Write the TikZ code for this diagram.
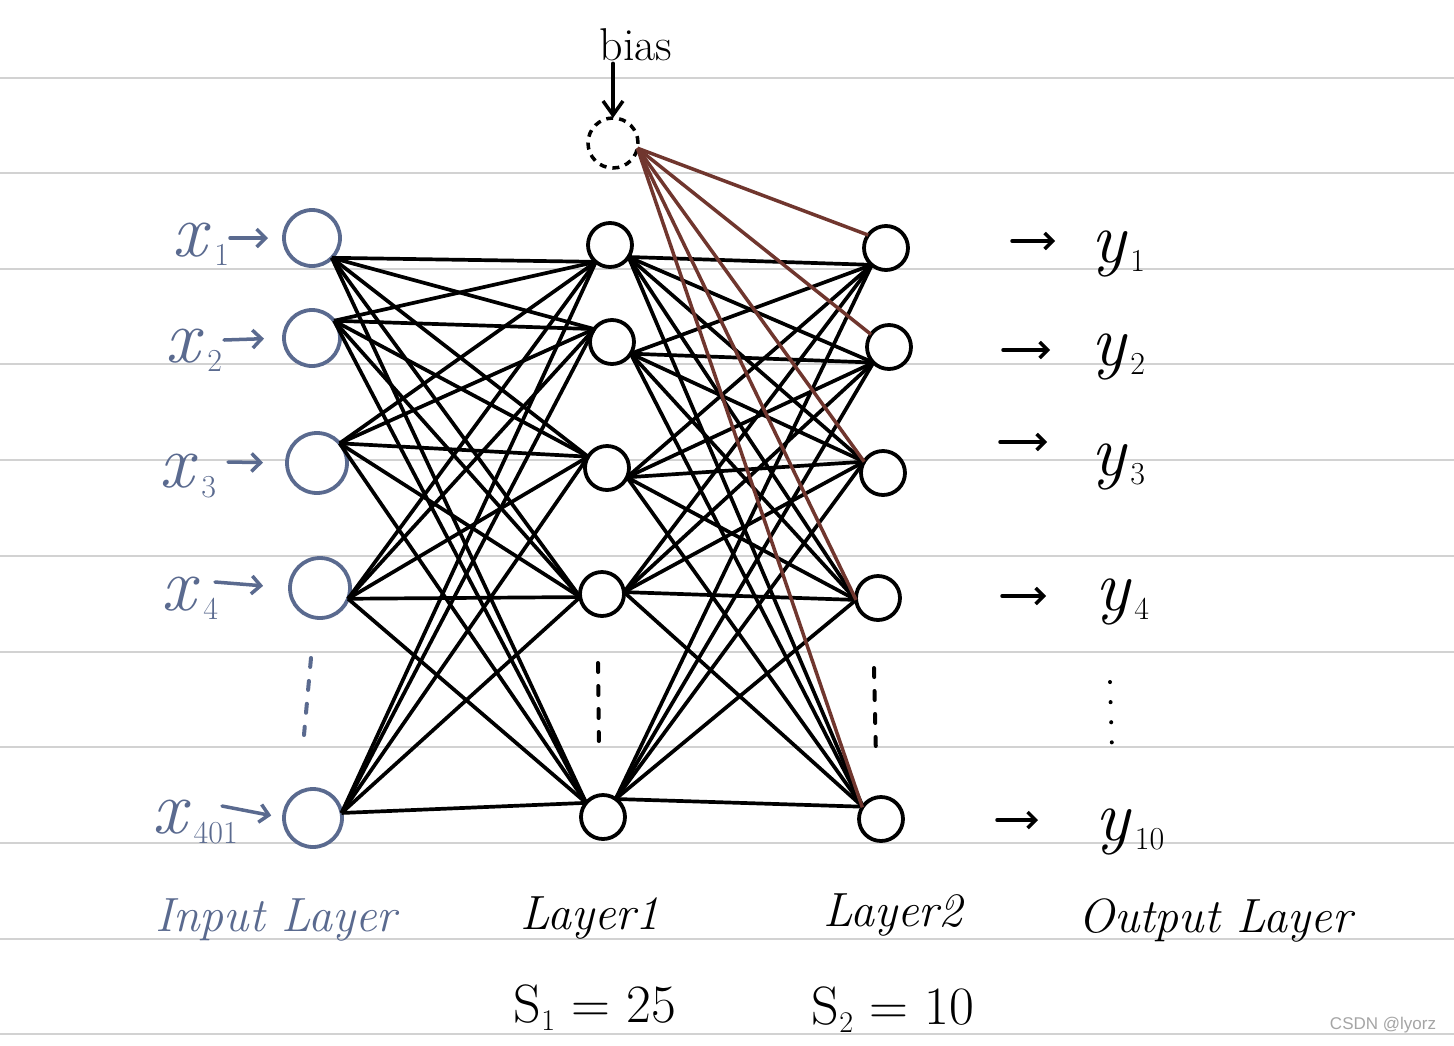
\documentclass[tikz,border=0pt]{standalone}
\usepackage{fontspec}
\usetikzlibrary{arrows.meta}
\newfontfamily\wmfont{Liberation Sans}
\definecolor{ink}{RGB}{90,106,143}
\definecolor{brownline}{RGB}{112,54,46}
\definecolor{ruleline}{RGB}{210,210,210}
\definecolor{wmgray}{RGB}{165,165,165}
\newcommand{\mylbl}[2]{\textit{#1}\kern0.04em\raisebox{-0.12em}{\fontsize{32}{34}\selectfont #2}}
\begin{document}
\begin{tikzpicture}[x=1pt,y=-1pt,
  inp/.style={circle, draw=ink, line width=3.8pt, inner sep=0pt, outer sep=0pt, fill=white},
  hid/.style={circle, draw=black, line width=3.8pt, minimum size=44pt, inner sep=0pt, outer sep=0pt, fill=white},
  biasnode/.style={circle, draw=black, line width=3.5pt, dash pattern=on 7pt off 6pt, minimum size=50pt, inner sep=0pt, outer sep=0pt},
  conn/.style={line width=3.7pt, black},
  biasln/.style={line width=3.5pt, brownline},
  ruled/.style={line width=2pt, ruleline},
  inarrow/.style={line width=3.5pt, ink, line cap=round, -{Straight Barb[length=9pt,width=18pt,line width=3.5pt]}},
  outarrow/.style={line width=3.5pt, black, line cap=round, -{Straight Barb[length=8pt,width=16pt,line width=3.5pt]}},
  xlab/.style={text=ink, font=\fontsize{76}{78}\selectfont, inner sep=0pt},
  ylab/.style={text=black, font=\fontsize{72}{74}\selectfont, inner sep=0pt},
  layerlab/.style={font=\fontsize{48}{52}\selectfont\itshape, inner sep=0pt},
  sizelab/.style={font=\fontsize{54}{56}\selectfont, inner sep=0pt},
  vdots/.style={line width=4pt, line cap=round, dash pattern=on 9pt off 14pt}
]
\useasboundingbox (0,0) rectangle (1454,1045);
\fill[white] (0,0) rectangle (1454,1045);
% ruled paper
\foreach \yy in {78,173,269,364,460,556,652,747,843,939,1034}
  \draw[ruled] (0,\yy) -- (1454,\yy);

% input layer
\node[inp, minimum size=56pt] (in1) at (312,238) {};
\node[inp, minimum size=56pt] (in2) at (312,338) {};
\node[inp, minimum size=60pt] (in3) at (317,463) {};
\node[inp, minimum size=60pt] (in4) at (320,588) {};
\node[inp, minimum size=58pt] (in5) at (313,818) {};

% layer 1
\node[hid] (h1) at (610,245) {};
\node[hid] (h2) at (612,342) {};
\node[hid] (h3) at (607,468) {};
\node[hid] (h4) at (602,594) {};
\node[hid] (h5) at (603,817) {};

% layer 2
\node[hid] (o1) at (886,248) {};
\node[hid] (o2) at (889,347) {};
\node[hid] (o3) at (883,473) {};
\node[hid] (o4) at (878,598) {};
\node[hid] (o5) at (881,819) {};

% bias
\node[biasnode] (bias) at (613,143) {};
\node[font=\fontsize{46}{50}\selectfont, inner sep=0pt] (biastext) at (636,45) {bias};
\draw[line width=3.5pt, line cap=round, -{Straight Barb[length=14pt,width=20pt,line width=3.5pt]}] (biastext.south -| bias.north) ++(0,2) -- (bias.north);

% connections input -> layer1
\foreach \i/\a in {1/-45,2/38,3/41,4/-21,5/10}
  \foreach \j/\b in {1/230,2/144,3/149,4/188,5/140}
    \draw[conn] (in\i.\a) -- (h\j.\b);

% connections layer1 -> layer2
\foreach \i/\a in {1/-33,2/-32,3/-25,4/5,5/55}
  \foreach \j/\b in {1/230,2/225,3/149,4/185,5/146}
    \draw[conn] (h\i.\a) -- (o\j.\b);

% bias connections
\foreach \j/\b in {1/144,2/145,3/149,4/185,5/148}
  \draw[biasln] (bias.-12) -- (o\j.\b);

% input labels
\node[xlab] (lx1) at (201,244) {\mylbl{x}{1}};
\node[xlab] (lx2) at (194,350) {\mylbl{x}{2}};
\node[xlab] (lx3) at (188,476) {\mylbl{x}{3}};
\node[xlab] (lx4) at (190,598) {\mylbl{x}{4}};
\node[xlab] (lx5) at (195,822) {\mylbl{x}{401}};
\coordinate (a1) at (230,238);
\coordinate (a2) at (224,340);
\coordinate (a3) at (228,462);
\coordinate (a4) at (215,582);
\coordinate (a5) at (222,806);
\draw[inarrow, shorten >=16pt] (a1) -- (in1.west);
\draw[inarrow, shorten >=20pt] (a2) -- (in2.west);
\draw[inarrow, shorten >=24pt] (a3) -- (in3.west);
\draw[inarrow, shorten >=27pt] (a4) -- (in4.west);
\draw[inarrow, shorten >=13pt] (a5) -- (in5.west);

% output labels
\node[ylab] (y1) at (1118,254) {\mylbl{y}{1}};
\node[ylab] (y2) at (1118,357) {\mylbl{y}{2}};
\node[ylab] (y3) at (1118,467) {\mylbl{y}{3}};
\node[ylab] (y4) at (1122,602) {\mylbl{y}{4}};
\node[ylab] (y5) at (1130,832) {\mylbl{y}{10}};
\coordinate (b1s) at (1012,241); \coordinate (b1e) at (1055,241);
\coordinate (b2s) at (1003,350); \coordinate (b2e) at (1050,350);
\coordinate (b3s) at (1000,442); \coordinate (b3e) at (1047,442);
\coordinate (b4s) at (1002,596); \coordinate (b4e) at (1046,596);
\coordinate (b5s) at (997,820);  \coordinate (b5e) at (1038,820);
\foreach \k in {1,...,5}
  \draw[outarrow] (b\k s) -- (b\k e);

% vertical dots
\draw[vdots, ink] (311,658) -- (304,735);
\draw[vdots, black] (598,663) -- (599,752);
\draw[vdots, black] (874,668) -- (876,757);
\draw[line width=4pt, line cap=round, dash pattern=on 0.1pt off 20pt, black] (1110,682) -- (1112,750);

% layer labels
\node[layerlab, text=ink] (linput) at (276,920) {Input Layer};
\node[layerlab] (l1) at (590,918) {Layer1};
\node[layerlab] (l2) at (893,915) {Layer2};
\node[layerlab] (lout) at (1215,920) {Output Layer};
\node[sizelab] (s1) at (595,1008) {S\raisebox{-0.15em}{\fontsize{30}{32}\selectfont 1} = 25};
\node[sizelab] (s2) at (893,1010) {S\raisebox{-0.15em}{\fontsize{30}{32}\selectfont 2} = 10};

% watermark
\node[font=\wmfont\fontsize{17}{19}\selectfont, text=wmgray, inner sep=0pt] (wm) at (1383,1025) {CSDN @lyorz};
\end{tikzpicture}
\end{document}
